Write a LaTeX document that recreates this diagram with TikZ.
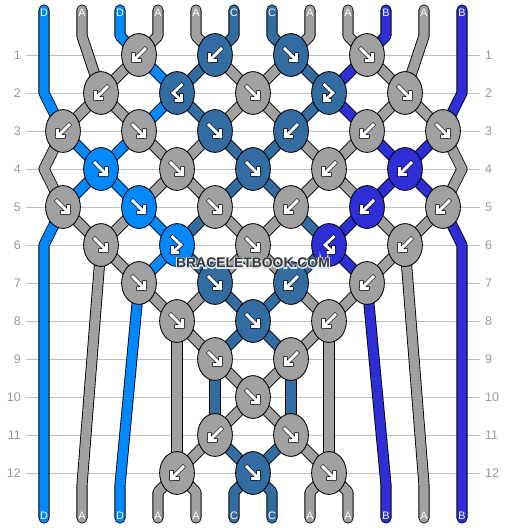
\documentclass[tikz,border=0pt]{standalone}
\usepackage{fontspec}
\setmainfont{Liberation Sans}
\usetikzlibrary{shapes.geometric,backgrounds}
\definecolor{colA}{HTML}{A0A0A0}
\definecolor{colB}{HTML}{2E2ED6}
\definecolor{colC}{HTML}{336CA1}
\definecolor{colD}{HTML}{0088FF}
\definecolor{gridcol}{HTML}{C0C0C0}
\definecolor{numcol}{HTML}{999999}
\pgfdeclarelayer{gridlayer}
\pgfdeclarelayer{strandlayer}
\pgfsetlayers{gridlayer,strandlayer,main}
\tikzset{
  knot/.style={ellipse,draw=black,line width=0.85pt,inner sep=0pt,minimum width=34.8pt,minimum height=42.8pt,fill=col#1},
  st/.style={draw=black,line width=0.85pt,double=col#1,double distance=9.4pt,line join=round,line cap=round},
  gridline/.style={draw=gridcol,line width=1pt},
  num/.style={text=numcol,font=\fontsize{12.5}{14}\selectfont,inner sep=0pt},
  lab/.style={text=white,font=\fontsize{10.8}{12}\selectfont,inner sep=0pt},
  wm/.style={text=black!78,font=\fontsize{13.9}{16}\selectfont\bfseries,inner sep=0pt},
  arrblack/.style={draw=black,line width=4.2pt,line cap=rect,miter limit=10},
  arrwhite/.style={draw=white,line width=2.9pt,line cap=rect,miter limit=10},
  pics/se/.style={code={
    \draw[arrblack] (-6,-6)--(5.5,5.5) (5.5,-0.5)--(5.5,5.5)--(-0.5,5.5);
    \draw[arrwhite] (-6,-6)--(5.5,5.5) (5.5,-0.5)--(5.5,5.5)--(-0.5,5.5);}},
  pics/sw/.style={code={
    \draw[arrblack] (6,-6)--(-5.5,5.5) (-5.5,-0.5)--(-5.5,5.5)--(0.5,5.5);
    \draw[arrwhite] (6,-6)--(-5.5,5.5) (-5.5,-0.5)--(-5.5,5.5)--(0.5,5.5);}},
  pics/lh/.style={code={
    \draw[arrblack,line join=miter] (4.5,-8)--(-4,0)--(4.5,7.5) (4.5,2.2)--(4.5,7.5)--(-1,7.5);
    \draw[arrwhite,line join=miter] (4.5,-8)--(-4,0)--(4.5,7.5) (4.5,2.2)--(4.5,7.5)--(-1,7.5);}},
  pics/rh/.style={code={
    \draw[arrblack,line join=miter] (-4.5,-8)--(4,0)--(-4.5,7.5) (-4.5,2.2)--(-4.5,7.5)--(1,7.5);
    \draw[arrwhite,line join=miter] (-4.5,-8)--(4,0)--(-4.5,7.5) (-4.5,2.2)--(-4.5,7.5)--(1,7.5);}},
}
\begin{document}
\begin{tikzpicture}[x=1pt,y=-1pt]
\useasboundingbox (0,0) rectangle (506,528);
% knots: name x y colour arrow
\foreach \n/\x/\y/\c/\a in {
 a1/139/55/A/sw,a2/215/55/C/sw,a3/291/55/C/se,a4/367/55/A/se,
 b1/101/93/A/sw,b2/177/93/C/lh,b3/253/93/A/se,b4/329/93/C/rh,b5/405/93/A/se,
 c1/63/131/A/sw,c2/139/131/A/se,c3/215/131/C/se,c4/291/131/C/sw,c5/367/131/A/sw,c6/443/131/A/se,
 d1/101/169/D/se,d2/177/169/A/se,d3/253/169/C/se,d4/329/169/A/sw,d5/405/169/B/sw,
 e1/63/207/A/se,e2/139/207/D/se,e3/215/207/A/se,e4/291/207/A/sw,e5/367/207/B/sw,e6/443/207/A/sw,
 f1/101/245/A/se,f2/177/245/D/rh,f3/253/245/A/se,f4/329/245/B/lh,f5/405/245/A/sw,
 g1/139/283/A/se,g2/215/283/C/se,g3/291/283/C/sw,g4/367/283/A/sw,
 h1/177/321/A/se,h2/253/321/C/se,h3/329/321/A/sw,
 i1/215/359/A/se,i2/291/359/A/sw,
 j1/253/397/A/se,
 k1/215/435/A/sw,k2/291/435/A/se,
 l1/177/473/A/sw,l2/253/473/C/se,l3/329/473/A/se}{
  \node[knot=\c] (\n) at (\x,\y) {};
  \pic at (\x,\y) {\a};
}
% strand ends and labels
\foreach \n/\x/\c in {1/44/D,2/82/A,3/120/D,4/158/A,5/196/A,6/234/C,7/272/C,8/310/A,9/348/A,10/386/B,11/424/A,12/462/B}{
  \coordinate (t\n) at (\x,10);
  \coordinate (u\n) at (\x,518);
  \node[lab] (tl\n) at (\x,12.3) {\c};
  \node[lab] (bl\n) at (\x,516) {\c};
}
% row numbers and grid
\begin{pgfonlayer}{gridlayer}
\foreach \r in {1,...,12}{
  \pgfmathsetmacro{\yy}{55+38*(\r-1)}
  \node[num,anchor=east] (nl\r) at (21,\yy) {\r};
  \node[num,anchor=west] (nr\r) at (485,\yy) {\r};
  \draw[gridline] (26,\yy) -- (480,\yy);
}
\end{pgfonlayer}
\begin{pgfonlayer}{strandlayer}
% top entries
\draw[st=D] (t1) -- (44,93) -- (c1.center);
\draw[st=A] (t2) -- (82,36) -- (b1.center);
\draw[st=D] (t3) -- (120,36) -- (a1.center);
\draw[st=A] (t4) -- (158,36) -- (a1.center);
\draw[st=A] (t5) -- (196,36) -- (a2.center);
\draw[st=C] (t6) -- (234,36) -- (a2.center);
\draw[st=C] (t7) -- (272,36) -- (a3.center);
\draw[st=A] (t8) -- (310,36) -- (a3.center);
\draw[st=A] (t9) -- (348,36) -- (a4.center);
\draw[st=B] (t10) -- (386,36) -- (a4.center);
\draw[st=A] (t11) -- (424,36) -- (b5.center);
\draw[st=B] (t12) -- (462,93) -- (c6.center);
% diagonals
\foreach \c/\p/\q in {
 A/a1/b1,D/a1/b2,C/a2/b2,A/a2/b3,A/a3/b3,C/a3/b4,B/a4/b4,A/a4/b5,
 A/b1/c1,A/b1/c2,D/b2/c2,C/b2/c3,A/b3/c3,A/b3/c4,C/b4/c4,B/b4/c5,A/b5/c5,A/b5/c6,
 D/c1/d1,D/c2/d1,A/c2/d2,A/c3/d2,C/c3/d3,C/c4/d3,A/c4/d4,A/c5/d4,B/c5/d5,B/c6/d5,
 D/d1/e1,D/d1/e2,A/d2/e2,A/d2/e3,C/d3/e3,C/d3/e4,A/d4/e4,A/d4/e5,B/d5/e5,B/d5/e6,
 A/e1/f1,A/e2/f1,D/e2/f2,C/e3/f2,A/e3/f3,A/e4/f3,C/e4/f4,B/e5/f4,A/e5/f5,A/e6/f5,
 A/f1/g1,D/f2/g1,C/f2/g2,A/f3/g2,A/f3/g3,C/f4/g3,B/f4/g4,A/f5/g4,
 A/g1/h1,A/g2/h1,C/g2/h2,C/g3/h2,A/g3/h3,A/g4/h3,
 A/h1/i1,C/h2/i1,C/h2/i2,A/h3/i2,
 A/i1/j1,A/i2/j1,C/i1/k1,C/i2/k2,
 A/j1/k1,A/j1/k2,
 A/k1/l1,C/k1/l2,C/k2/l2,A/k2/l3,
 A/h1/l1,A/h3/l3}{
  \draw[st=\c] (\p.center) -- (\q.center);
}
% side loops
\draw[st=A] (c1.center) -- (44,169) -- (e1.center);
\draw[st=A] (c6.center) -- (462,169) -- (e6.center);
% bottom exits
\draw[st=D] (e1.center) -- (44,245) -- (u1);
\draw[st=A] (f1.center) -- (82,485) -- (u2);
\draw[st=D] (g1.center) -- (120,485) -- (u3);
\draw[st=A] (l1.center) -- (158,492) -- (u4);
\draw[st=A] (l1.center) -- (196,492) -- (u5);
\draw[st=C] (l2.center) -- (234,492) -- (u6);
\draw[st=C] (l2.center) -- (272,492) -- (u7);
\draw[st=A] (l3.center) -- (310,492) -- (u8);
\draw[st=A] (l3.center) -- (348,492) -- (u9);
\draw[st=B] (g4.center) -- (386,485) -- (u10);
\draw[st=A] (f5.center) -- (424,485) -- (u11);
\draw[st=B] (e6.center) -- (462,245) -- (u12);
\end{pgfonlayer}
% watermark: light outline under the lettering
\node[wm] (markhalo) at (253,263) {\special{pdf:code q 1 Tr 2 w 0.88 0.9 0.93 RG}BRACELETBOOK.COM\special{pdf:code 0 Tr Q}};
\node[wm] (mark) at (253,263) {BRACELETBOOK.COM};
\end{tikzpicture}
\end{document}
